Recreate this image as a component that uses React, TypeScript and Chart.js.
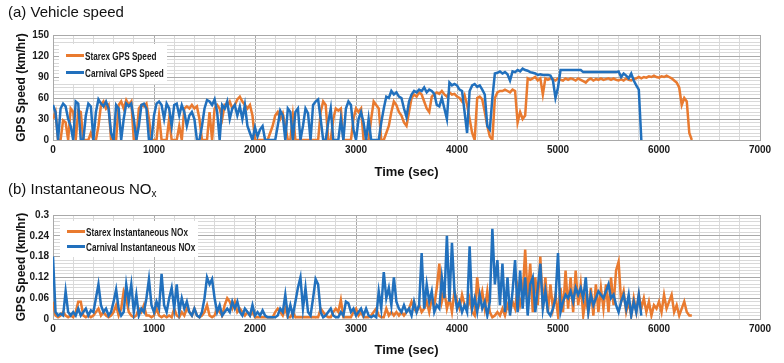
import React, { useEffect, useRef } from "react";
import { Chart, registerables } from "chart.js";

Chart.register(...registerables);

const STEP_SEC = 25;
const X_MIN = 0;
const X_MAX = 7000;
const X_LABEL_EVERY = 1000;
const X_GRID_STEP = 200;

const SPEED_MAX = 150;
const SPEED_LABEL_EVERY = 30;
const SPEED_GRID_STEP = 5;

const NOX_MAX = 0.3;
const NOX_LABEL_EVERY = 0.06;
const NOX_GRID_STEP = 0.01;

const SERIES_NAMES_SPEED = ["Starex GPS Speed", "Carnival GPS Speed"];
const SERIES_NAMES_NOX = ["Starex Instantaneous NOx", "Carnival Instantaneous NOx"];

const starexSpeed = [
  30, 40, 0, 0, 28, 25, 0, 45,
  40, 0, 42, 40, 0, 0, 0, 10,
  0, 0, 20, 50, 55, 45, 50, 0,
  0, 0, 50, 55, 45, 57, 50, 55,
  0, 0, 45, 50, 48, 52, 30, 0,
  0, 0, 35, 0, 0, 0, 30, 0,
  0, 0, 20, 0, 45, 48, 45, 50,
  45, 48, 30, 0, 0, 0, 40, 0,
  45, 50, 45, 30, 50, 48, 55, 45,
  50, 58, 62, 55, 50, 45, 50, 35,
  0, 0, 0, 0, 0, 0, 10, 20,
  35, 40, 30, 38, 20, 0, 0, 35,
  0, 0, 0, 0, 0, 0, 0, 0,
  0, 0, 40, 55, 50, 0, 0, 30,
  45, 42, 45, 0, 0, 0, 0, 30,
  45, 40, 45, 0, 0, 0, 30, 55,
  50, 45, 0, 0, 10, 20, 40, 55,
  50, 40, 35, 25, 20, 40, 60, 65,
  62, 68, 65, 55, 45, 40, 62, 65,
  68, 66, 70, 65, 62, 68, 65, 66,
  62, 60, 55, 64, 50, 30, 10, 0,
  60, 62, 58, 40, 20, 5, 0, 60,
  68, 70, 70, 72, 70, 68, 72, 70,
  25, 40, 30, 35, 88, 86, 88, 90,
  85, 88, 65, 88, 86, 88, 87, 85,
  88, 86, 85, 88, 86, 88, 87, 85,
  88, 86, 84, 82, 86, 88, 85, 87,
  86, 88, 86, 87, 88, 86, 88, 86,
  85, 87, 85, 88, 86, 85, 87, 88,
  90, 88, 90, 89, 91, 90, 92, 90,
  89, 91, 90, 92, 90, 88, 85, 82,
  75, 50, 60, 55, 10, 0,
];

const carnivalSpeed = [
  50, 40, 0, 45, 52, 48, 30, 20,
  0, 55, 52, 0, 0, 35, 52, 48,
  0, 40, 58, 52, 48, 55, 45, 10,
  0, 50, 45, 0, 30, 52, 48, 52,
  30, 0, 20, 50, 52, 45, 0, 0,
  35, 52, 55, 50, 30, 52, 45, 20,
  50, 52, 35, 50, 40, 20, 35, 40,
  30, 0, 0, 20, 45, 57, 55, 50,
  58, 40, 0, 50, 45, 55, 30, 45,
  50, 35, 48, 30, 50, 20, 10, 0,
  18, 5, 15, 20, 0, 0, 0, 0,
  0, 20, 42, 35, 0, 45, 40, 0,
  40, 45, 0, 20, 45, 38, 0, 50,
  55, 58, 30, 0, 0, 25, 45, 0,
  0, 0, 30, 0, 45, 55, 50, 15,
  0, 30, 40, 25, 0, 30, 0, 0,
  0, 0, 25, 45, 62, 60, 70, 65,
  68, 62, 60, 45, 33, 55, 65, 70,
  68, 72, 70, 75, 68, 72, 70, 66,
  50, 48, 60, 45, 30, 82, 78, 80,
  78, 72, 70, 40, 10, 70, 78, 80,
  76, 78, 72, 65, 20, 15, 60, 95,
  96, 98, 95, 97, 94, 85, 98, 97,
  100, 98, 102, 100, 99, 97, 96, 95,
  93, 94, 93, 93, 93, 92, 85, 60,
  75, 100, 100, 100, 100, 100, 100, 100,
  100, 100, 97, 97, 97, 97, 97, 97,
  97, 97, 97, 97, 97, 97, 97, 97,
  98, 90, 95, 92, 88, 95, 85, 78,
  72, 0,
];

const starexNox = [
  0.05, 0.01, 0.005, 0.01, 0.02, 0.01, 0.005, 0.01,
  0.005, 0.02, 0.05, 0.05, 0.01, 0.005, 0.01, 0.005,
  0.01, 0.02, 0.03, 0.01, 0.02, 0.01, 0.005, 0.01,
  0.02, 0.04, 0.01, 0.03, 0.08, 0.06, 0.02, 0.01,
  0.005, 0.01, 0.03, 0.02, 0.04, 0.01, 0.01, 0.005,
  0.01, 0.03, 0.01, 0.005, 0.01, 0.005, 0.01, 0.005,
  0.03, 0.01, 0.005, 0.02, 0.01, 0.03, 0.02, 0.01,
  0.03, 0.01, 0.005, 0.01, 0.02, 0.04, 0.01, 0.005,
  0.01, 0.03, 0.02, 0.01, 0.04, 0.06, 0.05, 0.03,
  0.05, 0.02, 0.03, 0.02, 0.01, 0.02, 0.01, 0.02,
  0.005, 0.005, 0.005, 0.005, 0.005, 0.005, 0.005, 0.005,
  0.02, 0.03, 0.02, 0.01, 0.03, 0.005, 0.005, 0.02,
  0.005, 0.005, 0.005, 0.005, 0.005, 0.005, 0.005, 0.005,
  0.005, 0.005, 0.03, 0.02, 0.01, 0.005, 0.005, 0.02,
  0.03, 0.02, 0.055, 0.005, 0.005, 0.005, 0.005, 0.02,
  0.03, 0.01, 0.02, 0.005, 0.005, 0.005, 0.01, 0.02,
  0.03, 0.01, 0.005, 0.005, 0.03, 0.01, 0.02, 0.01,
  0.02, 0.01, 0.02, 0.01, 0.02, 0.03, 0.05, 0.03,
  0.02, 0.04, 0.02, 0.03, 0.05, 0.02, 0.06, 0.04,
  0.09, 0.16, 0.05, 0.08, 0.03, 0.06, 0.02, 0.08,
  0.05, 0.03, 0.07, 0.04, 0.03, 0.06, 0.02, 0.01,
  0.12, 0.05, 0.08, 0.03, 0.08, 0.02, 0.005, 0.01,
  0.02, 0.01, 0.03, 0.01, 0.04, 0.02, 0.05, 0.03,
  0.09, 0.04, 0.07, 0.2, 0.06, 0.16, 0.02, 0.12,
  0.04, 0.18, 0.03, 0.12, 0.02, 0.1, 0.03, 0.07,
  0.01, 0.09, 0.02, 0.14, 0.03, 0.12, 0.02, 0.14,
  0.04, 0.1, 0.01, 0.06, 0.02, 0.09, 0.01, 0.1,
  0.02, 0.09, 0.03, 0.1, 0.02, 0.12, 0.04, 0.14,
  0.165, 0.05, 0.08, 0.02, 0.05, 0.01, 0.06, 0.02,
  0.07, 0.03, 0.06, 0.02, 0.05, 0.01, 0.04, 0.03,
  0.05, 0.02, 0.07, 0.03, 0.05, 0.07, 0.02, 0.04,
  0.01, 0.03, 0.05, 0.02, 0.01, 0.01,
];

const carnivalNox = [
  0.18, 0.02, 0.01, 0.015, 0.01, 0.08, 0.02, 0.01,
  0.02, 0.01, 0.03, 0.01, 0.02, 0.03, 0.01, 0.025,
  0.02, 0.06, 0.1, 0.04, 0.02, 0.03, 0.01, 0.02,
  0.05, 0.085, 0.03, 0.01, 0.02, 0.1, 0.05, 0.1,
  0.02, 0.07, 0.01, 0.03, 0.02, 0.06, 0.115, 0.04,
  0.02, 0.05, 0.03, 0.13, 0.04, 0.02, 0.06, 0.09,
  0.03, 0.1, 0.02, 0.06, 0.03, 0.05, 0.02, 0.01,
  0.03, 0.01, 0.005, 0.02, 0.06, 0.12, 0.1, 0.115,
  0.06, 0.02, 0.04, 0.01, 0.02, 0.03, 0.02, 0.05,
  0.03, 0.05, 0.02, 0.01, 0.03, 0.02, 0.01, 0.04,
  0.01, 0.02, 0.01, 0.025, 0.01, 0.005, 0.005, 0.005,
  0.005, 0.01, 0.03, 0.02, 0.07, 0.01, 0.04, 0.01,
  0.05, 0.09, 0.12, 0.03, 0.09, 0.02, 0.01, 0.06,
  0.115, 0.1, 0.02, 0.005, 0.01, 0.02, 0.03, 0.01,
  0.005, 0.005, 0.02, 0.01, 0.05, 0.045, 0.02, 0.03,
  0.01, 0.02, 0.03, 0.01, 0.03, 0.01, 0.005, 0.01,
  0.005, 0.08, 0.03, 0.135, 0.06, 0.09, 0.04, 0.12,
  0.05, 0.03, 0.02, 0.04, 0.02, 0.03, 0.01, 0.05,
  0.02, 0.04, 0.19, 0.03, 0.1, 0.05, 0.08, 0.02,
  0.04, 0.03, 0.12, 0.06, 0.24, 0.05, 0.22, 0.08,
  0.03, 0.05, 0.02, 0.04, 0.02, 0.21, 0.03, 0.06,
  0.02, 0.07, 0.03, 0.05, 0.01, 0.05, 0.26, 0.1,
  0.17, 0.04, 0.16, 0.02, 0.12, 0.01, 0.08, 0.17,
  0.02, 0.14, 0.03, 0.12, 0.01, 0.1, 0.12, 0.02,
  0.09, 0.16, 0.03, 0.08, 0.02, 0.01, 0.03, 0.06,
  0.19, 0.02, 0.05, 0.07, 0.06, 0.08, 0.05, 0.09,
  0.07, 0.09, 0.06, 0.12, 0.02, 0.07, 0.04, 0.06,
  0.08, 0.07, 0.06, 0.08, 0.1, 0.06, 0.07, 0.04,
  0.02, 0.05, 0.07, 0.03, 0.07, 0.01, 0.05, 0.02,
  0.07, 0.01,
];

// ---- styling ----
const ORANGE = "#E97A2F";
const BLUE = "#2170BD";
const GRID_MAJOR = "#a9a9a9";
const GRID_MINOR = "#d9d9d9";
const AXIS_FONT = "'Liberation Sans', Arial, sans-serif";
const TITLE_FONT = "'Liberation Sans', Arial, sans-serif";

const toPoints = (arr: number[]) => arr.map((v, i) => ({ x: i * STEP_SEC, y: v }));

type PanelCfg = {
  starex: number[];
  carnival: number[];
  names: string[];
  yMax: number;
  yGridStep: number;
  isMajorY: (v: number) => boolean;
  fmtY: (v: number) => string;
  xScaleHeight: number;
  xTitlePadBottom: number;
};

function makeConfig(p: PanelCfg): any {
  return {
    type: "line",
    data: {
      datasets: [
        {
          label: p.names[0],
          data: toPoints(p.starex),
          borderColor: ORANGE,
          backgroundColor: ORANGE,
          borderWidth: 2.5,
          pointRadius: 0,
          tension: 0,
          order: 2,
        },
        {
          label: p.names[1],
          data: toPoints(p.carnival),
          borderColor: BLUE,
          backgroundColor: BLUE,
          borderWidth: 2.5,
          pointRadius: 0,
          tension: 0,
          order: 1,
        },
      ],
    },
    options: {
      responsive: false,
      animation: false,
      devicePixelRatio: 1,
      layout: { padding: { left: 0, right: 24, top: 35, bottom: 0 } },
      plugins: { legend: { display: false }, tooltip: { enabled: false } },
      scales: {
        x: {
          type: "linear",
          min: X_MIN,
          max: X_MAX,
          ticks: {
            stepSize: X_GRID_STEP,
            autoSkip: false,
            maxRotation: 0,
            padding: 4,
            color: "#1a1a1a",
            font: { family: AXIS_FONT, size: 10, weight: "bold" },
            callback: (v: number) => (Math.round(v) % X_LABEL_EVERY === 0 ? String(v) : ""),
          },
          grid: {
            drawTicks: false,
            color: (c: any) =>
              c.tick && Math.round(c.tick.value) % X_LABEL_EVERY === 0 ? GRID_MAJOR : GRID_MINOR,
          },
          border: { display: true, color: GRID_MAJOR },
          title: {
            display: true,
            text: "Time (sec)",
            color: "#111",
            font: { family: AXIS_FONT, size: 13, weight: "bold" },
            padding: { top: 0, bottom: p.xTitlePadBottom },
          },
          afterFit: (s: any) => {
            s.height = p.xScaleHeight;
          },
        },
        y: {
          type: "linear",
          min: 0,
          max: p.yMax,
          ticks: {
            stepSize: p.yGridStep,
            autoSkip: false,
            padding: 4,
            color: "#1a1a1a",
            font: { family: AXIS_FONT, size: 10, weight: "bold" },
            callback: (v: number) => (p.isMajorY(v) ? p.fmtY(v) : ""),
          },
          grid: {
            drawTicks: false,
            color: (c: any) => (c.tick && p.isMajorY(c.tick.value) ? GRID_MAJOR : GRID_MINOR),
          },
          border: { display: true, color: GRID_MAJOR },
          title: {
            display: true,
            text: "GPS Speed (km/hr)",
            color: "#111",
            font: { family: AXIS_FONT, size: 12, weight: "bold" },
            padding: { top: 14, bottom: 0 },
          },
          afterFit: (s: any) => {
            s.width = 53;
          },
        },
      },
    },
  };
}

function ChartCanvas({ cfg, height }: { cfg: PanelCfg; height: number }) {
  const ref = useRef<HTMLCanvasElement | null>(null);
  useEffect(() => {
    if (!ref.current) return;
    const chart = new Chart(ref.current, makeConfig(cfg));
    return () => chart.destroy();
  }, []);
  return <canvas ref={ref} width={784} height={height} style={{ display: "block" }} />;
}

function Legend({
  left,
  top,
  width,
  rowHeight,
  names,
}: {
  left: number;
  top: number;
  width: number;
  rowHeight: number;
  names: string[];
}) {
  const colors = [ORANGE, BLUE];
  return (
    <div
      style={{
        position: "absolute",
        left,
        top,
        width,
        background: "#fff",
        padding: "3px 0 3px 7px",
        boxSizing: "border-box",
        overflow: "hidden",
      }}
    >
      {names.map((n, i) => (
        <div
          key={n}
          style={{ display: "flex", alignItems: "center", height: rowHeight, whiteSpace: "nowrap" }}
        >
          <span
            style={{
              display: "block",
              flex: "0 0 18px",
              width: 18,
              height: 3,
              background: colors[i],
              marginRight: 1,
            }}
          />
          <span
            style={{
              display: "inline-block",
              fontFamily: AXIS_FONT,
              fontWeight: "bold",
              fontSize: 10.5,
              color: "#1a1a1a",
              transform: "scaleX(0.78)",
              transformOrigin: "left center",
            }}
          >
            {n}
          </span>
        </div>
      ))}
    </div>
  );
}

export default function App() {
  const speedCfg: PanelCfg = {
    starex: starexSpeed,
    carnival: carnivalSpeed,
    names: SERIES_NAMES_SPEED,
    yMax: SPEED_MAX,
    yGridStep: SPEED_GRID_STEP,
    isMajorY: (v) => Math.round(v) % SPEED_LABEL_EVERY === 0,
    fmtY: (v) => String(Math.round(v)),
    xScaleHeight: 40,
    xTitlePadBottom: 0,
  };
  const noxCfg: PanelCfg = {
    starex: starexNox,
    carnival: carnivalNox,
    names: SERIES_NAMES_NOX,
    yMax: NOX_MAX,
    yGridStep: NOX_GRID_STEP,
    isMajorY: (v) => Math.round(v * 100) % Math.round(NOX_LABEL_EVERY * 100) === 0,
    fmtY: (v) => String(parseFloat(v.toFixed(2))),
    xScaleHeight: 44,
    xTitlePadBottom: 5,
  };
  return (
    <div
      style={{
        position: "absolute",
        left: 0,
        top: 0,
        width: 784,
        height: 363,
        background: "#fff",
        overflow: "hidden",
      }}
    >
      <div style={{ position: "absolute", left: 0, top: 0 }}>
        <ChartCanvas cfg={speedCfg} height={180} />
      </div>
      <div style={{ position: "absolute", left: 0, top: 180 }}>
        <ChartCanvas cfg={noxCfg} height={183} />
      </div>
      <div
        style={{
          position: "absolute",
          left: 8,
          top: 3,
          fontFamily: TITLE_FONT,
          fontSize: 15,
          color: "#111",
          whiteSpace: "nowrap",
        }}
      >
        (a) Vehicle speed
      </div>
      <div
        style={{
          position: "absolute",
          left: 8,
          top: 180,
          fontFamily: TITLE_FONT,
          fontSize: 15,
          color: "#111",
          whiteSpace: "nowrap",
        }}
      >
        (b) Instantaneous NO<sub style={{ fontSize: 10, verticalAlign: "-3px" }}>x</sub>
      </div>
      <Legend left={59} top={44} width={108} rowHeight={17} names={SERIES_NAMES_SPEED} />
      <Legend left={60} top={221} width={138} rowHeight={15} names={SERIES_NAMES_NOX} />
    </div>
  );
}
